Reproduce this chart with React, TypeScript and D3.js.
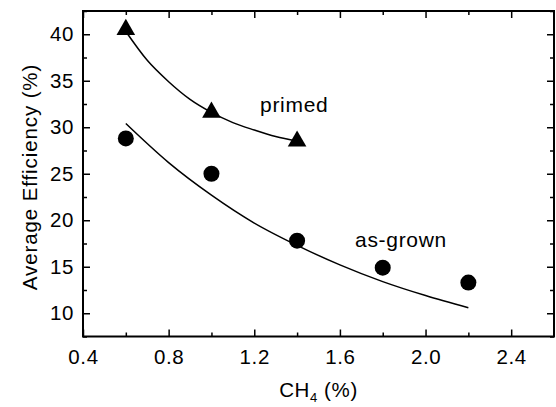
import React, { useEffect, useRef } from 'react';
import * as d3 from 'd3';

const W = 556;
const H = 407;
const margin = { left: 83, right: 2, top: 11, bottom: 70.5 };

// measured points
const primedX = [0.6, 1.0, 1.4];
const primedY = [40.5, 31.6, 28.5];
const grownX = [0.6, 1.0, 1.4, 1.8, 2.2];
const grownY = [28.8, 25.0, 17.8, 14.9, 13.3];

// fit curves
const primedFitX = [0.6, 0.7, 0.8, 0.9, 1.0, 1.1, 1.2, 1.3, 1.4];
const primedFitY = [40.3, 37.2, 34.9, 33.0, 31.6, 30.5, 29.7, 29.0, 28.5];
const grownFitX = [0.6, 0.8, 1.0, 1.2, 1.4, 1.6, 1.8, 2.0, 2.2];
const grownFitY = [30.4, 26.2, 22.7, 19.7, 17.3, 15.2, 13.4, 11.9, 10.6];

const xMajor = [0.4, 0.8, 1.2, 1.6, 2.0, 2.4];
const xMinor = [0.6, 1.0, 1.4, 1.8, 2.2];
const yMajor = [10, 15, 20, 25, 30, 35, 40];
const yMinor = [7.5, 12.5, 17.5, 22.5, 27.5, 32.5, 37.5, 42.5];

const font = 'Liberation Sans, Arial, sans-serif';

export default function App() {
  const bottomRef = useRef<SVGGElement>(null);
  const topRef = useRef<SVGGElement>(null);
  const leftRef = useRef<SVGGElement>(null);
  const rightRef = useRef<SVGGElement>(null);

  const x = d3.scaleLinear().domain([0.4, 2.6]).range([margin.left, W - margin.right]);
  const y = d3.scaleLinear().domain([7.5, 42.5]).range([H - margin.bottom, margin.top]);

  const fit = d3
    .line<[number, number]>()
    .x(d => x(d[0]))
    .y(d => y(d[1]))
    .curve(d3.curveMonotoneX);
  const primedPath = fit(primedFitX.map((v, i) => [v, primedFitY[i]] as [number, number]));
  const grownPath = fit(grownFitX.map((v, i) => [v, grownFitY[i]] as [number, number]));

  useEffect(() => {
    const style = (g: any) => {
      g.select('.domain').remove();
      g.selectAll('line').attr('stroke', '#000').attr('stroke-width', 1.5);
      g.selectAll('text')
        .attr('font-family', font)
        .attr('font-size', 20.5)
        .attr('letter-spacing', 0.6)
        .attr('fill', '#000');
    };
    const b = d3.select(bottomRef.current!);
    b.selectAll('*').remove();
    b.append('g').call(d3.axisBottom(x).tickValues(xMajor).tickSize(-7).tickPadding(13).tickFormat(d3.format('.1f'))).call(style);
    b.append('g').call(d3.axisBottom(x).tickValues(xMinor).tickSize(-4).tickFormat(() => '')).call(style);

    const t = d3.select(topRef.current!);
    t.selectAll('*').remove();
    t.append('g').call(d3.axisTop(x).tickValues(xMajor).tickSize(-7).tickFormat(() => '')).call(style);
    t.append('g').call(d3.axisTop(x).tickValues(xMinor).tickSize(-4).tickFormat(() => '')).call(style);

    const l = d3.select(leftRef.current!);
    l.selectAll('*').remove();
    l.append('g').call(d3.axisLeft(y).tickValues(yMajor).tickSize(-7).tickPadding(9)).call(style);
    l.append('g').call(d3.axisLeft(y).tickValues(yMinor).tickSize(-4).tickFormat(() => '')).call(style);

    const r = d3.select(rightRef.current!);
    r.selectAll('*').remove();
    r.append('g').call(d3.axisRight(y).tickValues(yMajor).tickSize(-7).tickFormat(() => '')).call(style);
    r.append('g').call(d3.axisRight(y).tickValues(yMinor).tickSize(-4).tickFormat(() => '')).call(style);
  }, []);

  const tri = d3.symbol().type(d3.symbolTriangle).size(150)();

  const x0 = margin.left;
  const x1 = W - margin.right;
  const y0 = margin.top;
  const y1 = H - margin.bottom;

  return (
    <svg
      width={W}
      height={H}
      style={{ position: 'absolute', left: 0, top: 0, background: '#fff' }}
    >
      <rect x={0} y={0} width={W} height={H} fill="#fff" />
      <path d={primedPath || ''} fill="none" stroke="#000" strokeWidth={1.5} />
      <path d={grownPath || ''} fill="none" stroke="#000" strokeWidth={1.5} />
      {grownX.map((v, i) => (
        <circle key={'c' + i} cx={x(v)} cy={y(grownY[i])} r={8} fill="#000" />
      ))}
      {primedX.map((v, i) => (
        <path key={'t' + i} d={tri || ''} transform={`translate(${x(v)},${y(primedY[i])})`} fill="#000" />
      ))}
      <g ref={bottomRef} transform={`translate(0,${y1})`} />
      <g ref={topRef} transform={`translate(0,${y0})`} />
      <g ref={leftRef} transform={`translate(${x0},0)`} />
      <g ref={rightRef} transform={`translate(${x1},0)`} />
      <rect x={x0} y={y0} width={x1 - x0} height={y1 - y0} fill="none" stroke="#000" strokeWidth={2} />
      <text x={260} y={112} fontFamily={font} fontSize={21} letterSpacing={0.7} fill="#000">primed</text>
      <text x={355} y={247} fontFamily={font} fontSize={21} letterSpacing={0.7} fill="#000">as-grown</text>
      <text x={(x0 + x1) / 2} y={397} textAnchor="middle" fontFamily={font} fontSize={20.5} letterSpacing={0.6} fill="#000">
        CH<tspan fontSize={13} dy={5}>4</tspan>
        <tspan dy={-5}> (%)</tspan>
      </text>
      <text
        transform={`translate(37,177) rotate(-90)`}
        textAnchor="middle"
        fontFamily={font}
        fontSize={20.5}
        letterSpacing={0.9}
        fill="#000"
      >
        Average Efficiency (%)
      </text>
    </svg>
  );
}
